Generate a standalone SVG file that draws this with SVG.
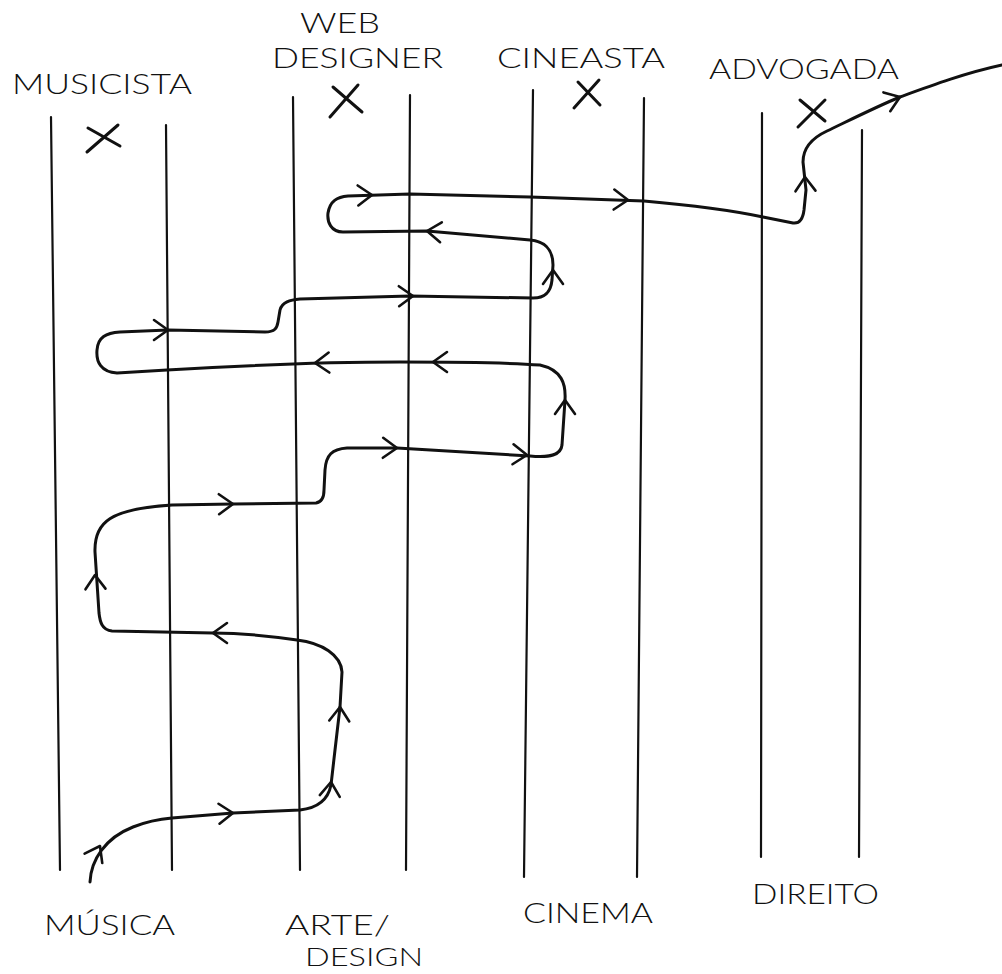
<svg xmlns="http://www.w3.org/2000/svg" xmlns:xlink="http://www.w3.org/1999/xlink" width="1002" height="974" viewBox="0 0 1002 974">
<style>
.lane{stroke:#111;stroke-width:2.2;fill:none;stroke-linecap:round}
.x{stroke:#111;stroke-width:3;fill:none;stroke-linecap:round}
.lbl{font-family:Lato,"Open Sans","Liberation Sans",sans-serif;font-weight:300;font-size:27px;fill:#111}
.route{stroke:#111;stroke-width:3;fill:none;stroke-linecap:round;stroke-linejoin:round}
.chev{stroke:#111;stroke-width:2.6;fill:none;stroke-linecap:round;stroke-linejoin:round}
</style>
<defs>
<path id="chev" class="chev" d="M-14,-10 L0,0 L-14,10"/>
</defs>
<rect width="1002" height="974" fill="#fff"/>

<g id="lane-musica">
<line class="lane" x1="51" y1="117" x2="60" y2="870"/>
<line class="lane" x1="166" y1="125" x2="172" y2="870"/>
<text class="lbl" x="12" y="94" textLength="180" lengthAdjust="spacingAndGlyphs">MUSICISTA</text>
<path class="x" d="M88,128 L120,146 M87,152 L118,125"/>
<text class="lbl" x="44" y="935" textLength="131" lengthAdjust="spacingAndGlyphs">MÚSICA</text>
</g>

<g id="lane-arte-design">
<line class="lane" x1="293" y1="97" x2="300" y2="870"/>
<line class="lane" x1="410" y1="95" x2="406" y2="870"/>
<text class="lbl" x="300" y="33" textLength="80" lengthAdjust="spacingAndGlyphs">WEB</text>
<text class="lbl" x="272" y="68" textLength="171" lengthAdjust="spacingAndGlyphs">DESIGNER</text>
<path class="x" d="M333,87 L362,112 M330,117 L358,85"/>
<text class="lbl" x="285" y="935" textLength="105" lengthAdjust="spacingAndGlyphs">ARTE/</text>
<text class="lbl" x="305" y="966" textLength="118" lengthAdjust="spacingAndGlyphs" style="font-size:25px">DESIGN</text>
</g>

<g id="lane-cinema">
<line class="lane" x1="533" y1="90" x2="524" y2="877"/>
<line class="lane" x1="644" y1="98" x2="637" y2="877"/>
<text class="lbl" x="497" y="68" textLength="168" lengthAdjust="spacingAndGlyphs">CINEASTA</text>
<path class="x" d="M578,82 L600,105 M574,108 L599,80"/>
<text class="lbl" x="523" y="923" textLength="130" lengthAdjust="spacingAndGlyphs">CINEMA</text>
</g>

<g id="lane-direito">
<line class="lane" x1="762" y1="113" x2="761" y2="857"/>
<line class="lane" x1="862" y1="130" x2="859" y2="857"/>
<text class="lbl" x="709" y="79" textLength="190" lengthAdjust="spacingAndGlyphs">ADVOGADA</text>
<path class="x" d="M800,100 L825,121 M798,127 L825,100"/>
<text class="lbl" x="752" y="904" textLength="127" lengthAdjust="spacingAndGlyphs">DIREITO</text>
</g>

<g id="connectors">
<path class="route" d="M90,882 C91,860 105,838 133,827 C148,821 160,819 172,818 L233,813 L300,810 C318,808 328,800 331,785 L335,750 L340,707 L342,672 C341,655 322,643 297,640 C270,636 240,633 213,633 L112,631 C102,630 100,622 99,613 L95,552 C94,522 110,509 172,505 L233,504 L316,503 C322,502 324,497 324,490 L325,470 C326,455 332,449 347,448 L397,448 L530,456 C550,458 561,455 562,445 L565,400 C566,384 562,370 540,365 C500,362 440,362 400,362 C340,362 250,365 167,370 L117,373 C101,372 96,362 97,350 C98,337 106,333 120,332 L168,330 L265,332 C275,332 277,328 278,322 L280,310 C282,302 290,300 300,299 L410,296 L533,298 C547,298 551,290 552,280 L553,265 C553,248 543,241 530,240 L427,231 L343,232 C331,232 327,222 328,213 C330,201 337,197 348,196 L410,194 L530,197 L644,201 C690,205 730,210 763,217 L793,223 C800,224 803,218 804,210 L806,190 L803,162 C803,148 812,138 827,131 C850,120 878,106 900,97 C930,86 965,73 1002,65"/>
<use xlink:href="#chev" transform="translate(100,846) rotate(-62)"/>
<use xlink:href="#chev" transform="translate(233,813) rotate(-3)"/>
<use xlink:href="#chev" transform="translate(331,782) rotate(-85)"/>
<use xlink:href="#chev" transform="translate(340,707) rotate(-87)"/>
<use xlink:href="#chev" transform="translate(213,633) rotate(180)"/>
<use xlink:href="#chev" transform="translate(95,575) rotate(-92)"/>
<use xlink:href="#chev" transform="translate(233,504) rotate(-1)"/>
<use xlink:href="#chev" transform="translate(397,448) rotate(1)"/>
<use xlink:href="#chev" transform="translate(527,455) rotate(3)"/>
<use xlink:href="#chev" transform="translate(565,400) rotate(-90)"/>
<use xlink:href="#chev" transform="translate(433,362) rotate(180)"/>
<use xlink:href="#chev" transform="translate(315,363) rotate(178)"/>
<use xlink:href="#chev" transform="translate(168,330) rotate(0)"/>
<use xlink:href="#chev" transform="translate(413,296) rotate(-1)"/>
<use xlink:href="#chev" transform="translate(553,270) rotate(-90)"/>
<use xlink:href="#chev" transform="translate(427,231) rotate(185)"/>
<use xlink:href="#chev" transform="translate(372,195) rotate(-2)"/>
<use xlink:href="#chev" transform="translate(628,200) rotate(2)"/>
<use xlink:href="#chev" transform="translate(805,177) rotate(-92)"/>
<use xlink:href="#chev" transform="translate(900,97) rotate(-20)"/>
</g>
</svg>
